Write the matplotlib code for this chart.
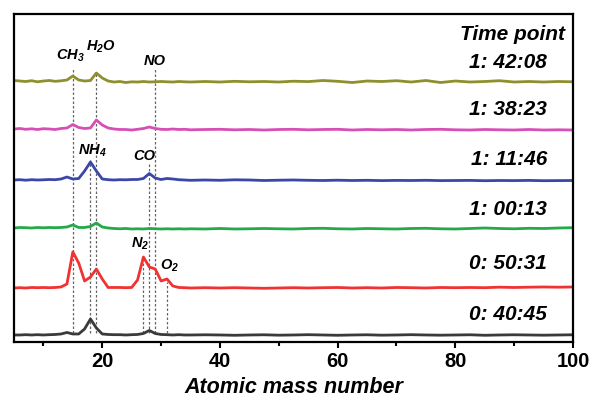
import numpy as np
import matplotlib
matplotlib.use('Agg')
import matplotlib.pyplot as plt

plt.rcParams['font.family'] = 'Liberation Sans'
plt.rcParams['font.weight'] = 'bold'
plt.rcParams['mathtext.fontset'] = 'custom'
plt.rcParams['mathtext.rm'] = 'Liberation Sans:italic:bold'
plt.rcParams['mathtext.it'] = 'Liberation Sans:italic:bold'
plt.rcParams['mathtext.bf'] = 'Liberation Sans:italic:bold'

# mass grid: integers 5..35, then every 2.5 up to 100
mass = list(range(5, 36)) + [37.5 + 2.5 * i for i in range(26)]

# traces, bottom to top (intensity above each trace's own baseline, arbitrary units)
time_labels = ['0: 40:45', '0: 50:31', '1: 00:13', '1: 11:46', '1: 38:23', '1: 42:08']
offsets = [7, 54, 114, 162, 213, 261]
colors = ['#3a3a3a', '#f03232', '#25a84a', '#3a47a8', '#d54fb5', '#8e8f2d']

t_4045 = [0, 0, 0.3, 0, 0.3, 0, 0.3, 0.5, 1, 2.5, 1, 1, 6, 16, 7, 1, 0.5, 0.3, 0.3, 0, 0.3,
          0.5, 1.5, 4.5, 1.5, 0.5, 0.3, 0, 0.3, 0, 0,
          0.2, 0, -0.3, 0, 0.2, -0.2, 0, 0.3, 0, -0.3, 0, 0.2, -0.2, 0, 0.3, 0, -0.2, 0, 0.2,
          -0.3, 0, 0.2, 0, -0.2, 0, 0.2]
t_5031 = [0, 0.3, 0, 0.5, 0.3, 0.5, 0.3, 0.5, 1, 4, 36, 25, 7, 11, 19, 9, 0.5, 0.5, 0.5, 0.3,
          0.5, 8, 31, 21, 19, 7, 9, 2, 0.5, 0.3, 0,
          0.3, 0, 0.3, 0, -0.3, 0, 0.3, 0, 0.3, 0.5, 0, 0.3, 0, 0.5, 0.3, 0, 0.5, 0.3, 0.5, 0.3,
          0.8, 0.5, 0.8, 1, 0.8, 1]
t_0013 = [0, 0.5, 0.3, 0, 0.5, 0.2, 0.5, 0.3, 0.5, 1, 3, 0.5, 0.5, 1.5, 5, 1, 0, -0.5, -0.8,
          -0.5, -1, -0.8, -1, -0.5, -0.8, -1, -0.8, -1, -0.8, -1, -0.8,
          -1, -0.5, -1, -0.8, -0.5, -0.8, -1, -0.5, -0.3, -0.8, -1, -0.5, -0.8, -1, -0.5, -0.3,
          -0.8, -1, -0.5, 0, -0.5, -0.8, -0.3, -0.5, 0, 0.3]
t_1146 = [0, 0.3, -0.2, 0.3, 0, 0.2, 0.5, 0.3, 1, 3, 1, 1.5, 9, 18, 9, 1, 0.3, 0, 0.3, 0.2,
          0.5, 0.5, 1.5, 6.5, 2, 0.5, 1.5, 1, 0.3, 0, -0.3,
          0, -0.3, 0.2, 0, -0.5, -0.2, 0, -0.3, -0.5, -0.2, -0.5, -0.3, -0.6, -0.4, -0.5, -0.3,
          -0.6, -0.5, -0.4, -0.7, -0.5, -0.6, -0.4, -0.7, -0.6, -0.5]
t_3823 = [0, 0.5, -0.3, 0.2, -0.5, 0.3, 0, -0.5, 0.5, 1, 4.5, 1.5, 0.5, 1, 9, 4, 1, 0, -0.5,
          -0.5, -1, -0.3, 0.5, 2, 0.5, -0.3, -0.5, 0, -0.5, -0.3, -0.8,
          -0.5, -0.3, -0.8, -0.5, -1, -0.5, -0.3, -0.8, -0.5, -0.3, -1, -0.5, -0.8, -0.5, -1,
          -0.5, -0.3, -0.8, -1, -0.5, -0.8, -1, -0.5, -1, -0.8, -1]
t_4208 = [0.5, 0, -0.5, 0.3, -0.8, 0, 0.5, -0.3, 0.2, 1, 5, 1, 0, 0.5, 8, 3, 0, -1, -0.5,
          -1.5, -0.8, -1, -0.5, -1, -0.8, -0.5, -0.8, -1, -0.5, -0.8, -1,
          -0.5, -1, -0.3, -0.8, -0.5, -1, -0.2, -0.6, 0.5, -0.3, -1.5, 0, -0.5, 0.3, -1, 0.5,
          -1.5, 0, -1, -0.5, 0.3, -1, -0.5, -1, -0.5, -0.8]
traces = [t_4045, t_5031, t_0013, t_1146, t_3823, t_4208]

# species markers: label, mass, dashed line top, label position
species = ['CH$_3$', 'H$_2$O', 'NO', 'NH$_4$', 'CO', 'N$_2$', 'O$_2$']
species_mass = [15, 19, 29, 18, 28, 27, 31]
line_top = [274, 270, 274, 182, 179, 82, 60]
label_x = [14.6, 19.7, 29.0, 18.3, 27.1, 26.5, 31.5]
label_y = [282, 291, 277, 187, 182, 94, 72]

fig = plt.figure(figsize=(5.92, 4.05), dpi=100)
ax = fig.add_axes([0.0236, 0.1556, 0.9443, 0.8098])

for m, top in zip(species_mass, line_top):
    ax.plot([m, m], [9, top], color='#666666', lw=0.9, ls=(0, (2, 1.6)), zorder=1)

for y, off, c in zip(traces, offsets, colors):
    ax.plot(mass, np.array(y) + off, color=c, lw=2.0, zorder=2)

for s, x, y in zip(species, label_x, label_y):
    ax.text(x, y, s, ha='center', va='baseline', fontsize=10.5,
            fontstyle='italic', fontweight='bold')

ax.text(98.6, 302, 'Time point', ha='right', va='baseline', fontsize=15,
        fontstyle='italic', fontweight='bold')
time_y = [22, 73, 127, 177, 227, 274]
for lab, y in zip(time_labels, time_y):
    ax.text(95.6, y, lab, ha='right', va='baseline', fontsize=15,
            fontstyle='italic', fontweight='bold')

ax.set_xlim(5, 100)
ax.set_ylim(0, 328)
ax.set_yticks([])
ax.set_xticks([20, 40, 60, 80, 100])
ax.set_xticks([10, 30, 50, 70, 90], minor=True)
ax.tick_params(axis='x', which='major', length=4.5, width=1.5, labelsize=14.5, pad=3)
ax.tick_params(axis='x', which='minor', length=3, width=1.5)
for lab in ax.get_xticklabels():
    lab.set_fontweight('bold')
for sp in ax.spines.values():
    sp.set_linewidth(1.6)
ax.set_xlabel('Atomic mass number', fontsize=15.5, fontstyle='italic',
              fontweight='bold', labelpad=4)

fig.savefig('out.png', dpi=100)
